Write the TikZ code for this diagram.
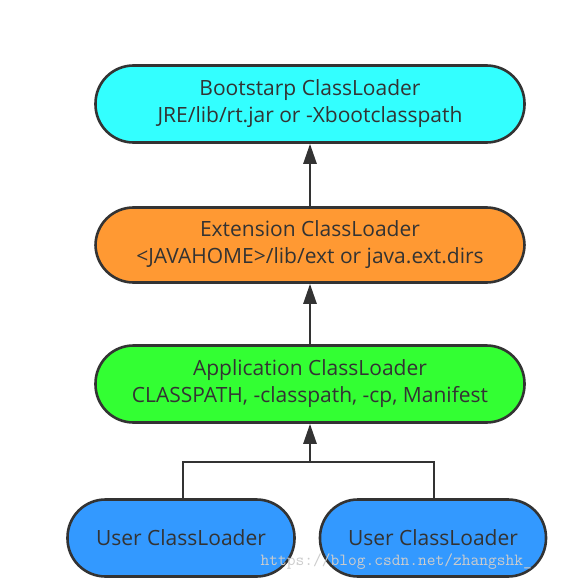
\documentclass[tikz,border=0pt]{standalone}
\usepackage{fontspec}
\setmainfont{Open Sans}
\usetikzlibrary{arrows.meta}
\definecolor{cyanf}{HTML}{33FFFF}
\definecolor{orangef}{HTML}{FF9933}
\definecolor{greenf}{HTML}{33FF33}
\definecolor{bluef}{HTML}{3399FF}
\definecolor{edge}{HTML}{333333}
\begin{document}
\begin{tikzpicture}[x=1pt,y=-1pt,
  loader/.style={draw=edge,line width=2.6pt,rounded corners=38pt,align=center,
    text=edge,font=\fontsize{21}{27}\selectfont,inner sep=0pt},
  link/.style={draw=edge,line width=2.6pt},
  up/.style={link,-{Triangle[length=20pt,width=13pt]}}]
\useasboundingbox (0,0) rectangle (579,580);
\node[loader,fill=cyanf,minimum width=429pt,minimum height=77pt] (boot) at (310,104)
  {Bootstarp ClassLoader\\JRE/lib/rt.jar or -Xbootclasspath};
\node[loader,fill=orangef,minimum width=429pt,minimum height=75pt] (ext) at (310,245)
  {Extension ClassLoader\\<JAVAHOME>/lib/ext or java.ext.dirs};
\node[loader,fill=greenf,minimum width=429pt,minimum height=77pt] (app) at (310,384)
  {Application ClassLoader\\CLASSPATH, -classpath, -cp, Manifest};
\node[loader,fill=bluef,minimum width=227pt,minimum height=77pt] (u1) at (181,538)
  {User ClassLoader};
\node[loader,fill=bluef,minimum width=226pt,minimum height=77pt] (u2) at (433,538)
  {User ClassLoader};
\coordinate (j) at (310,462);
\draw[up] (ext.north) -- (boot.south);
\draw[up] (app.north) -- (ext.south);
\draw[up] (j) -- (app.south);
\draw[link] (u1.north -| 183,0) |- (j) -| (u2.north -| 434,0);
\node[text=gray!40,font=\ttfamily\fontsize{17}{20}\selectfont,anchor=west] (wm) at (257,562)
  {https://blog.csdn.net/zhangshk\_};
\end{tikzpicture}
\end{document}
